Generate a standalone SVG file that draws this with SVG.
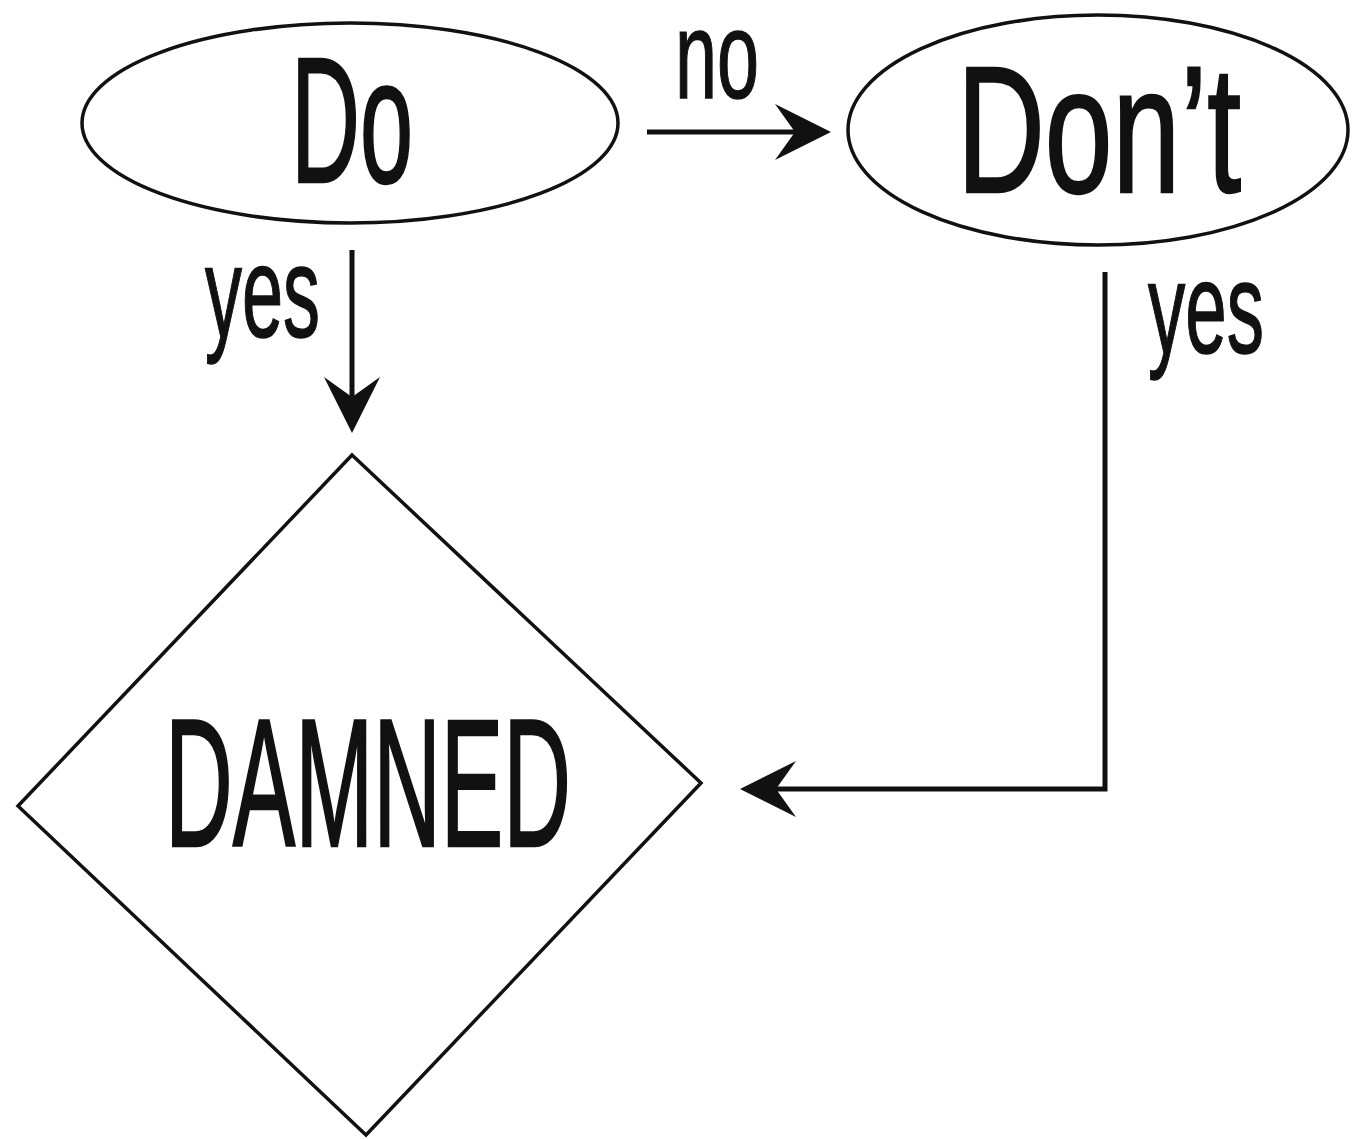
<svg xmlns="http://www.w3.org/2000/svg" width="1358" height="1139" viewBox="0 0 1358 1139">
<style>
.shape{fill:#fff;stroke:#111;stroke-width:3.5}
.big{font-family:"Liberation Sans",Arial,sans-serif;fill:#111;stroke:#111;stroke-width:2.5}
.lbl{font-family:"Liberation Sans",Arial,sans-serif;fill:#111;stroke:#111;stroke-width:1.5}
.conn{fill:none;stroke:#111;stroke-width:5}
</style>
<defs>
<marker id="arr" viewBox="-58 -30 60 60" markerWidth="60" markerHeight="60" refX="-34" refY="0" markerUnits="userSpaceOnUse" orient="auto">
<path d="M0,0 L-56,-28 L-36,0 L-56,28 Z" fill="#111"/>
</marker>
</defs>
<rect width="1358" height="1139" fill="#fff"/>
<g id="node-do">
<ellipse class="shape" cx="350" cy="123" rx="268" ry="100"/>
<text class="big" x="291" y="182" font-size="178" textLength="122" lengthAdjust="spacingAndGlyphs">Do</text>
</g>
<g id="node-dont">
<ellipse class="shape" cx="1098" cy="130" rx="250" ry="115"/>
<text class="big" x="957" y="192" font-size="180" textLength="284" lengthAdjust="spacingAndGlyphs">Don’t</text>
</g>
<g id="node-damned">
<polygon class="shape" points="352,455 701,783 366,1135 18,806"/>
<text class="big" x="165" y="846" font-size="181" textLength="406" lengthAdjust="spacingAndGlyphs">DAMNED</text>
</g>
<g id="connectors">
<path class="conn" d="M647,132 L797,132" marker-end="url(#arr)"/>
<path class="conn" d="M352,250 L352,399" marker-end="url(#arr)"/>
<path class="conn" d="M1105,272 L1105,789 L774,789" marker-end="url(#arr)"/>
<text class="lbl" x="675" y="98" font-size="125" textLength="84" lengthAdjust="spacingAndGlyphs">no</text>
<text class="lbl" x="205" y="337" font-size="130" textLength="115" lengthAdjust="spacingAndGlyphs">yes</text>
<text class="lbl" x="1148" y="353" font-size="130" textLength="116" lengthAdjust="spacingAndGlyphs">yes</text>
</g>
</svg>
